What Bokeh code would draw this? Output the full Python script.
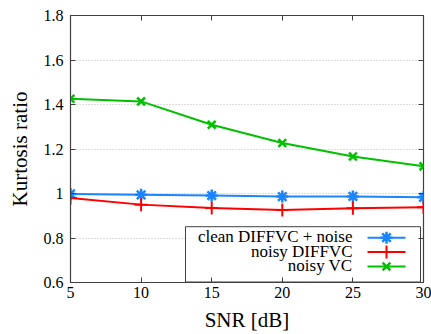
from bokeh.plotting import figure
from bokeh.embed import file_html
from bokeh.resources import INLINE
from bokeh.models import Range1d, LinearAxis, FixedTicker, Label

snr = [5, 10, 15, 20, 25, 30]
clean_diffvc_noise = [0.998, 0.994, 0.991, 0.986, 0.987, 0.983]
noisy_diffvc = [0.980, 0.950, 0.935, 0.926, 0.934, 0.938]
noisy_vc = [1.426, 1.414, 1.309, 1.227, 1.166, 1.122]
series_names = ["clean DIFFVC + noise", "noisy DIFFVC", "noisy VC"]
x_ticks = [5, 10, 15, 20, 25, 30]
y_ticks = [0.6, 0.8, 1.0, 1.2, 1.4, 1.6, 1.8]
y_tick_labels = {0.6: "0.6", 0.8: "0.8", 1.0: "1", 1.2: "1.2", 1.4: "1.4", 1.6: "1.6", 1.8: "1.8"}

FONT = "'Liberation Serif'"
FRAME = "#404040"
W, H = 431, 334
L, R, T, B = 70, 8, 15, 51
X0, X1, Y0, Y1 = 5, 30, 0.6, 1.8

p = figure(width=W, height=H, output_backend="svg", toolbar_location=None,
           x_range=Range1d(X0, X1), y_range=Range1d(Y0, Y1),
           min_border_left=L, min_border_right=R, min_border_top=T, min_border_bottom=B)
p.background_fill_color = "white"
p.border_fill_color = "white"
p.outline_line_color = FRAME
p.outline_line_width = 1.2

p.xgrid.visible = False
p.ygrid.ticker = FixedTicker(ticks=[0.8, 1.0, 1.2, 1.4, 1.6])
p.ygrid.grid_line_color = "#bbbbbb"
p.ygrid.grid_line_dash = "1 2"
p.ygrid.grid_line_width = 1

for ax in (p.xaxis[0], p.yaxis[0]):
    ax.axis_line_color = FRAME
    ax.major_tick_line_color = FRAME
    ax.major_tick_in = 5
    ax.major_tick_out = 0
    ax.minor_tick_line_color = None
    ax.major_label_text_font = FONT
    ax.major_label_text_font_size = "16px"
    ax.major_label_text_color = "black"
    ax.axis_label_text_font = FONT
    ax.axis_label_text_font_size = "21px"
    ax.axis_label_text_font_style = "normal"
    ax.axis_label_text_color = "black"

p.xaxis[0].ticker = FixedTicker(ticks=x_ticks)
p.yaxis[0].ticker = FixedTicker(ticks=y_ticks)
p.yaxis[0].major_label_overrides = y_tick_labels
p.xaxis[0].axis_label = "SNR [dB]"
p.yaxis[0].axis_label = "Kurtosis ratio"
p.xaxis[0].major_label_standoff = 4
p.yaxis[0].major_label_standoff = 7
p.xaxis[0].axis_label_standoff = 7
p.yaxis[0].axis_label_standoff = 9

top = LinearAxis(ticker=FixedTicker(ticks=x_ticks), major_label_text_color=None,
                 major_label_text_font_size="1px", axis_line_color=None,
                 major_tick_line_color=FRAME, major_tick_in=5,
                 major_tick_out=0, minor_tick_line_color=None, major_label_standoff=0)
right = LinearAxis(ticker=FixedTicker(ticks=y_ticks), major_label_text_color=None,
                   major_label_text_font_size="1px", axis_line_color=None,
                   major_tick_line_color=FRAME, major_tick_in=5,
                   major_tick_out=0, minor_tick_line_color=None, major_label_standoff=0)
p.add_layout(top, "above")
p.add_layout(right, "right")
p.min_border_top = T
p.min_border_right = R

BLUE = "#1a85ff"
RED = "#ff0000"
GREEN = "#00c000"
colors = [BLUE, RED, GREEN]
markers = ["asterisk", "cross", "x"]
msizes = [12, 13, 11]
mwidths = [2.5, 2, 2.5]
series = [clean_diffvc_noise, noisy_diffvc, noisy_vc]

for ys, c, mk, ms, mw in zip(series, colors, markers, msizes, mwidths):
    p.line(snr, ys, color=c, line_width=2)
    p.scatter(snr, ys, marker=mk, size=ms, line_color=c, line_width=mw)

# gnuplot-style key (text right-aligned, sample on the right), placed in pixels
def dx(px):
    return X0 + (px - L) * (X1 - X0) / (W - L - R)

def dy(py):
    return Y1 - (py - T) * (Y1 - Y0) / (H - T - B)

p.quad(left=[dx(185)], right=[dx(420)], top=[dy(227)], bottom=[dy(282.5)],
       fill_color="white", fill_alpha=1, line_color=FRAME, line_width=1)
rows_px = [237, 251.5, 266]
for name, c, mk, ms, mw, ry in zip(series_names, colors, markers, msizes, mwidths, rows_px):
    p.add_layout(Label(x=dx(352), y=dy(ry), text=name, text_align="right",
                       text_baseline="middle", text_font=FONT, text_font_size="17px",
                       text_color="black"))
    p.line([dx(367), dx(405)], [dy(ry + 1), dy(ry + 1)], color=c, line_width=2)
    p.scatter([dx(386)], [dy(ry + 1)], marker=mk, size=ms, line_color=c, line_width=mw)

open("out.html", "w").write(file_html(p, INLINE))
